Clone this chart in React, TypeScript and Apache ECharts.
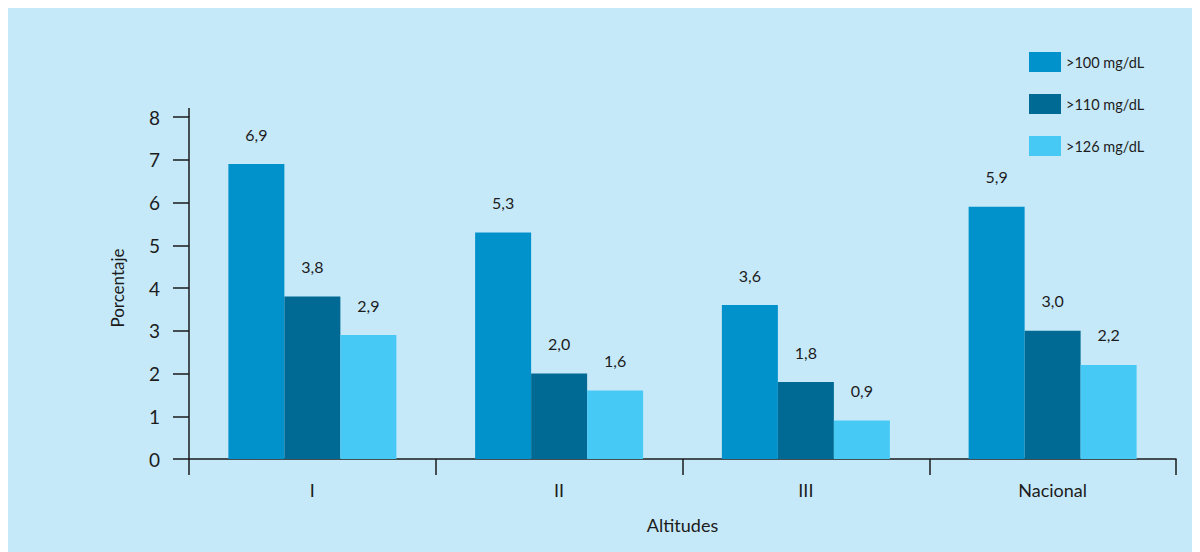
import React, { useEffect, useRef } from "react";
import * as echarts from "echarts";

const categories = ["I", "II", "III", "Nacional"];
const seriesNames = [">100 mg/dL", ">110 mg/dL", ">126 mg/dL"];
const s100 = [6.9, 5.3, 3.6, 5.9];
const s110 = [3.8, 2.0, 1.8, 3.0];
const s126 = [2.9, 1.6, 0.9, 2.2];
const colors = ["#0292cb", "#006a94", "#47c9f5"];
const yTicks = [0, 1, 2, 3, 4, 5, 6, 7, 8];

const FONT = "Lato, 'DejaVu Sans', sans-serif";
const TEXT = "#1c1c1c";

export default function App() {
  const ref = useRef<HTMLDivElement>(null);
  useEffect(() => {
    if (!ref.current) return;
    const chart = echarts.init(ref.current, undefined, { renderer: "svg" });
    const gridLeft = 181;
    const gridTop = 109;
    const mk = (name: string, data: number[], color: string) => ({
      name,
      type: "bar",
      data,
      barWidth: 56,
      barGap: "0%",
      itemStyle: { color },
      label: {
        show: true,
        position: "top",
        distance: 22,
        formatter: (p: any) => p.value.toFixed(1).replace(".", ","),
        color: TEXT,
        fontFamily: FONT,
        fontSize: 16,
      },
    });
    chart.setOption({
      animation: false,
      backgroundColor: "#c6e9f9",
      textStyle: { fontFamily: FONT },
      grid: { left: gridLeft, right: 24, top: gridTop, bottom: 93, containLabel: false },
      legend: {
        orient: "vertical",
        left: 1016,
        top: 39,
        itemWidth: 32,
        itemHeight: 20,
        itemGap: 22,
        icon: "rect",
        data: seriesNames,
        textStyle: { color: TEXT, fontFamily: FONT, fontSize: 14.5 },
      },
      xAxis: {
        type: "category",
        data: categories,
        name: "Altitudes",
        nameLocation: "middle",
        nameGap: 57,
        nameTextStyle: { color: TEXT, fontSize: 18, fontFamily: FONT },
        axisLine: { lineStyle: { color: "#1a1a1a", width: 1.5 } },
        axisTick: { show: true, length: 16, lineStyle: { color: "#1a1a1a", width: 1.5 } },
        axisLabel: { color: TEXT, fontSize: 18, fontFamily: FONT, margin: 22 },
      },
      yAxis: {
        type: "value",
        min: 0,
        max: 8,
        interval: 1,
        name: "Porcentaje",
        nameLocation: "middle",
        nameGap: 63,
        nameTextStyle: { color: TEXT, fontSize: 17, fontFamily: FONT },
        axisLine: { show: true, lineStyle: { color: "#1a1a1a", width: 1.5 } },
        axisTick: { show: true, length: 16, lineStyle: { color: "#1a1a1a", width: 1.5 } },
        splitLine: { show: false },
        axisLabel: {
          color: TEXT,
          fontSize: 19,
          fontFamily: FONT,
          margin: 29,
          formatter: (v: number) => (yTicks.includes(v) ? String(v) : ""),
        },
      },
      graphic: [
        {
          type: "line",
          shape: { x1: gridLeft, y1: gridTop - 9, x2: gridLeft, y2: gridTop },
          style: { stroke: "#1a1a1a", lineWidth: 1.5 },
        },
      ],
      series: [
        mk(seriesNames[0], s100, colors[0]),
        mk(seriesNames[1], s110, colors[1]),
        mk(seriesNames[2], s126, colors[2]),
      ],
    });
    return () => chart.dispose();
  }, []);
  return <div ref={ref} style={{ width: 1192, height: 544 }} />;
}
